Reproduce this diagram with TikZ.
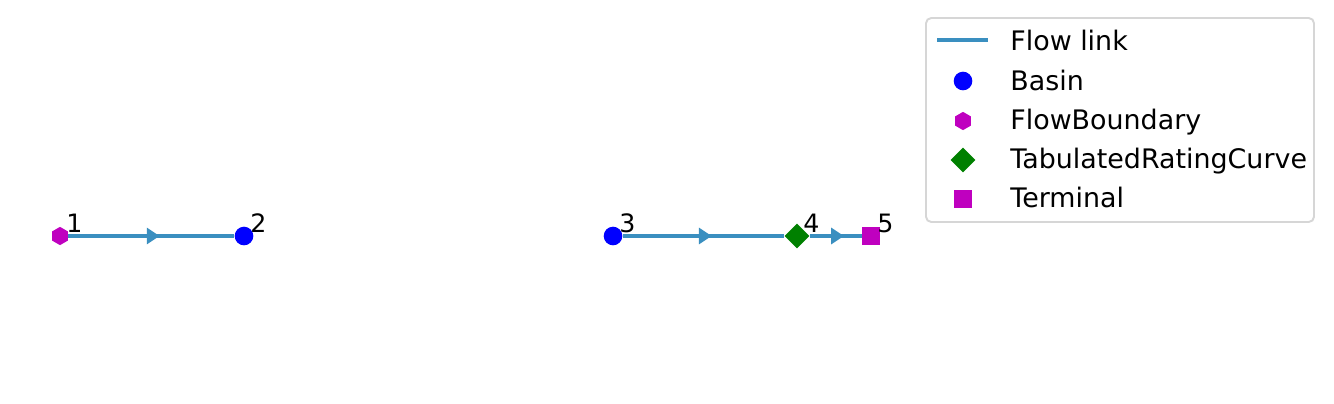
\documentclass[tikz,border=0pt]{standalone}
\usepackage{fontspec}
\setmainfont{DejaVu Sans}
\usetikzlibrary{calc,shapes.geometric}
\definecolor{linkblue}{RGB}{58,143,192}
\definecolor{nodemagenta}{RGB}{191,0,191}
\definecolor{nodegreen}{RGB}{0,128,0}
\definecolor{legendgray}{RGB}{214,214,214}
\tikzset{
    flowlink/.style={draw=linkblue, line width=2.3pt},
    flowtip/.style={fill=linkblue, isosceles triangle, isosceles triangle stretches, minimum height=7.2pt, minimum width=9.6pt, inner sep=0pt, anchor=center},
    basin/.style={circle, fill=blue, inner sep=0pt, minimum size=10.6pt},
    boundary/.style={regular polygon, regular polygon sides=6, shape border rotate=30, fill=nodemagenta, inner sep=0pt, minimum size=10.4pt},
    ratingcurve/.style={diamond, aspect=1, fill=nodegreen, inner sep=0pt, minimum size=14.2pt},
    terminal/.style={rectangle, fill=nodemagenta, inner sep=0pt, minimum size=10.4pt},
    nodelabel/.style={anchor=base west, inner sep=0pt, font=\fontsize{14.4}{17}\selectfont},
    legendtext/.style={anchor=base west, inner sep=0pt, font=\fontsize{15.3}{18}\selectfont}
}
\begin{document}
\begin{tikzpicture}[x=0.02cm, y=-0.02cm]
                    \useasboundingbox (0, 0) rectangle (1334, 403);
                    \node [boundary] (n1) at (60, 236) {};
                    \node [basin] (n2) at (244, 236) {};
                    \node [basin] (n3) at (613, 236) {};
                    \node [ratingcurve] (n4) at (797, 236) {};
                    \node [terminal] (n5) at (871, 236) {};
                    \node [nodelabel] (l1) at ($ (n1) + (6, -4) $) {1};
                    \node [nodelabel] (l2) at ($ (n2) + (6, -4) $) {2};
                    \node [nodelabel] (l3) at ($ (n3) + (6, -4) $) {3};
                    \node [nodelabel] (l4) at ($ (n4) + (6, -4) $) {4};
                    \node [nodelabel] (l5) at ($ (n5) + (6, -4) $) {5};
                    \draw [flowlink] (n1) -- node [flowtip] {} (n2);
                    \draw [flowlink] (n3) -- node [flowtip] {} (n4);
                    \draw [flowlink] (n4) -- node [flowtip] {} (n5);

                    \draw [legendgray, line width=1.1pt, rounded corners=3pt] (926, 18) rectangle (1314, 222);
                    \coordinate (ka) at (937, 40);
                    \coordinate (kb) at (988, 40);
                    \draw [flowlink] (ka) -- (kb);
                    \node [basin] (k2) at (963, 81) {};
                    \node [boundary] (k3) at (963, 121) {};
                    \node [ratingcurve] (k4) at (963, 160) {};
                    \node [terminal] (k5) at (963, 199) {};
                    \node [legendtext] (t1) at (1010, 50) {Flow link};
                    \node [legendtext] (t2) at (1010, 90) {Basin};
                    \node [legendtext] (t3) at (1010, 129) {FlowBoundary};
                    \node [legendtext] (t4) at (1010, 168) {TabulatedRatingCurve};
                    \node [legendtext] (t5) at (1010, 207) {Terminal};
\end{tikzpicture}
\end{document}
